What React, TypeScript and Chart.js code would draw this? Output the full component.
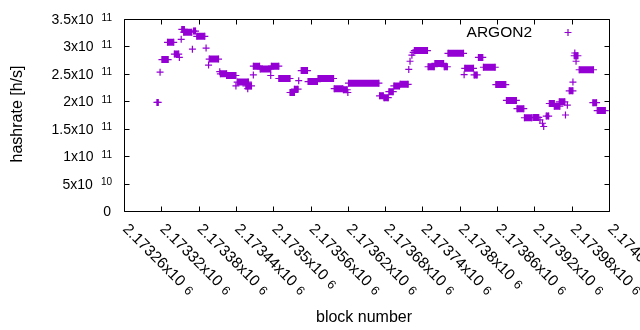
import React, { useEffect, useRef } from "react";
import { Chart, registerables } from "chart.js";

Chart.register(...registerables);

// Runs of blocks sharing the same hashrate estimate (block start, block end, hashrate in GH/s)
const SEG_START = [
  2173313, 2173318, 2173321, 2173330, 2173341, 2173349, 2173352, 2173353, 2173356, 2173370,
  2173372, 2173377, 2173392, 2173396, 2173397, 2173414, 2173415, 2173425, 2173440, 2173442,
  2173456, 2173459, 2173468, 2173468, 2173479, 2173496, 2173497, 2173509, 2173527, 2173534,
  2173541, 2173545, 2173556, 2173572, 2173598, 2173613, 2173620, 2173621, 2173671, 2173678,
  2173686, 2173694, 2173704, 2173718, 2173720, 2173723, 2173725, 2173727, 2173749, 2173760,
  2173775, 2173781, 2173807, 2173808, 2173823, 2173830, 2173838, 2173858, 2173875, 2173892,
  2173904, 2173918, 2173929, 2173933, 2173935, 2173939, 2173944, 2173952, 2173960, 2173970,
  2173973, 2173976, 2173982, 2173984, 2173985, 2173987, 2173992, 2174014, 2174021,
];
const SEG_END = [
  2173315, 2173318, 2173331, 2173340, 2173348, 2173349, 2173352, 2173357, 2173369, 2173370,
  2173375, 2173390, 2173392, 2173396, 2173412, 2173414, 2173425, 2173440, 2173440, 2173460,
  2173465, 2173459, 2173468, 2173478, 2173496, 2173496, 2173509, 2173527, 2173534, 2173540,
  2173541, 2173555, 2173571, 2173597, 2173612, 2173619, 2173620, 2173670, 2173677, 2173685,
  2173693, 2173703, 2173717, 2173718, 2173720, 2173723, 2173725, 2173748, 2173759, 2173774,
  2173780, 2173806, 2173807, 2173822, 2173828, 2173837, 2173857, 2173874, 2173891, 2173903,
  2173916, 2173927, 2173929, 2173933, 2173935, 2173943, 2173952, 2173961, 2173969, 2173970,
  2173973, 2173982, 2173982, 2173990, 2173985, 2173987, 2174015, 2174020, 2174034,
];
const SEG_HASHRATE_GH = [
  198, 253, 276, 307.5, 286, 280, 313, 331, 326, 295,
  328, 318.5, 297, 266, 277, 254, 250, 247, 228, 235,
  228, 223, 248, 264, 259, 247, 264, 241.5, 216, 222,
  237.5, 256, 236, 241.5, 223, 221, 216, 233, 210, 206.5,
  217.5, 228, 231, 258, 273, 284, 289, 292.5, 263, 269,
  263, 287.5, 248.5, 260, 248, 280, 262, 230.5, 201.5, 186.5,
  170, 170.5, 166, 160, 154, 173, 196, 191, 199, 175,
  193, 219, 235, 283, 288, 273, 257.5, 197.5, 183,
];

const X_TICKS = [
  2173260, 2173320, 2173380, 2173440, 2173500, 2173560, 2173620,
  2173680, 2173740, 2173800, 2173860, 2173920, 2173980, 2174040,
];
const X_TICK_MANTISSA = [
  "2.17326", "2.17332", "2.17338", "2.17344", "2.1735", "2.17356", "2.17362",
  "2.17368", "2.17374", "2.1738", "2.17386", "2.17392", "2.17398", "2.17404",
];
const X_TICK_EXP = "6";
const Y_TICKS = [0, 5e10, 1e11, 1.5e11, 2e11, 2.5e11, 3e11, 3.5e11];
const Y_TICK_MANTISSA = ["0", "5", "1", "1.5", "2", "2.5", "3", "3.5"];
const Y_TICK_EXP = ["", "10", "11", "11", "11", "11", "11", "11"];

const SERIES_NAME = "ARGON2";
const X_TITLE = "block number";
const Y_TITLE = "hashrate [h/s]";
const COLOR = "#9400d3";
const FONT = "'Liberation Sans', Arial, sans-serif";

function buildPoints() {
  const pts: { x: number; y: number | null }[] = [];
  for (let i = 0; i < SEG_START.length; i++) {
    const y = SEG_HASHRATE_GH[i] * 1e9;
    pts.push({ x: SEG_START[i], y });
    if (SEG_END[i] !== SEG_START[i]) pts.push({ x: SEG_END[i], y });
    pts.push({ x: SEG_END[i], y: null });
  }
  return pts;
}

const framePlugin = {
  id: "gnuplotFrame",
  afterDraw(chart: any) {
    const ctx = chart.ctx as CanvasRenderingContext2D;
    const { left, right, top, bottom } = chart.chartArea;
    const xs = chart.scales.x;
    const ys = chart.scales.y;
    ctx.save();
    ctx.strokeStyle = "#000";
    ctx.lineWidth = 1;
    const L = Math.round(left) + 0.5, R = Math.round(right) + 0.5;
    const T = Math.round(top) + 0.5, B = Math.round(bottom) + 0.5;
    ctx.beginPath();
    ctx.rect(L, T, R - L, B - T);
    const tl = 5;
    X_TICKS.forEach((v) => {
      const px = Math.round(xs.getPixelForValue(v)) + 0.5;
      ctx.moveTo(px, B); ctx.lineTo(px, B - tl);
      ctx.moveTo(px, T); ctx.lineTo(px, T + tl);
    });
    Y_TICKS.forEach((v) => {
      const py = Math.round(ys.getPixelForValue(v)) + 0.5;
      ctx.moveTo(L, py); ctx.lineTo(L + tl, py);
      ctx.moveTo(R, py); ctx.lineTo(R - tl, py);
    });
    ctx.stroke();

    ctx.fillStyle = "#000";
    // Y tick labels
    Y_TICKS.forEach((v, i) => {
      const py = ys.getPixelForValue(v);
      const exp = Y_TICK_EXP[i];
      const rightX = left - 12;
      ctx.textBaseline = "alphabetic";
      if (!exp) {
        ctx.font = `14px ${FONT}`;
        ctx.textAlign = "right";
        ctx.fillText(Y_TICK_MANTISSA[i], rightX - 1, py + 5);
        return;
      }
      ctx.font = `10px ${FONT}`;
      const ew = ctx.measureText(exp).width;
      ctx.textAlign = "left";
      ctx.fillText(exp, rightX - ew, py + 1.5);
      ctx.font = `14px ${FONT}`;
      ctx.textAlign = "right";
      ctx.fillText(Y_TICK_MANTISSA[i] + "x10", rightX - ew - 8, py + 5);
    });
    // X tick labels, rotated -45 deg (down-right)
    X_TICKS.forEach((v, i) => {
      const px = xs.getPixelForValue(v);
      ctx.save();
      ctx.translate(px - 2, bottom + 18.8);
      ctx.rotate(Math.PI / 4);
      ctx.textAlign = "left";
      ctx.textBaseline = "alphabetic";
      ctx.font = `15.5px ${FONT}`;
      const m = X_TICK_MANTISSA[i] + "x10";
      ctx.fillText(m, 0, 0);
      const w = ctx.measureText(m).width;
      ctx.font = `12.5px ${FONT}`;
      ctx.fillText(X_TICK_EXP, w + 5.5, 0);
      ctx.restore();
    });
    // Axis titles
    ctx.font = `16px ${FONT}`;
    ctx.textAlign = "center";
    ctx.textBaseline = "alphabetic";
    ctx.fillText(X_TITLE, 364, 321.5);
    ctx.save();
    ctx.translate(21.5, 114);
    ctx.rotate(-Math.PI / 2);
    ctx.fillText(Y_TITLE, 0, 0);
    ctx.restore();
    // Legend
    ctx.font = `15.5px ${FONT}`;
    ctx.textAlign = "right";
    ctx.fillText(SERIES_NAME, 532, 36.7);
    ctx.strokeStyle = COLOR;
    ctx.lineWidth = 1.2;
    ctx.beginPath();
    ctx.moveTo(564.5, 32.5); ctx.lineTo(571.5, 32.5);
    ctx.moveTo(568, 29); ctx.lineTo(568, 36);
    ctx.stroke();
    ctx.restore();
  },
};

export default function App() {
  const ref = useRef<HTMLCanvasElement | null>(null);
  useEffect(() => {
    if (!ref.current) return;
    const chart = new Chart(ref.current, {
      type: "scatter",
      data: {
        datasets: [
          {
            label: SERIES_NAME,
            data: buildPoints() as any,
            showLine: true,
            spanGaps: false,
            borderColor: COLOR,
            backgroundColor: COLOR,
            borderWidth: 7,
            borderCapStyle: "butt",
            pointStyle: "cross",
            pointRadius: 3.5,
            pointBorderWidth: 1.2,
            pointBorderColor: COLOR,
            pointBackgroundColor: COLOR,
            tension: 0,
          } as any,
        ],
      },
      options: {
        responsive: false,
        animation: false,
        events: [],
        layout: { padding: { left: 124, right: 31, top: 19, bottom: 119 } },
        plugins: { legend: { display: false }, tooltip: { enabled: false } },
        scales: {
          x: { type: "linear", min: 2173260, max: 2174040, display: false },
          y: { type: "linear", min: 0, max: 3.5e11, display: false },
        },
      },
      plugins: [framePlugin],
    });
    return () => chart.destroy();
  }, []);
  return (
    <div style={{ position: "fixed", left: 0, top: 0, width: 640, height: 330, background: "#fff" }}>
      <canvas ref={ref} width={640} height={330} style={{ width: 640, height: 330 }} />
    </div>
  );
}
